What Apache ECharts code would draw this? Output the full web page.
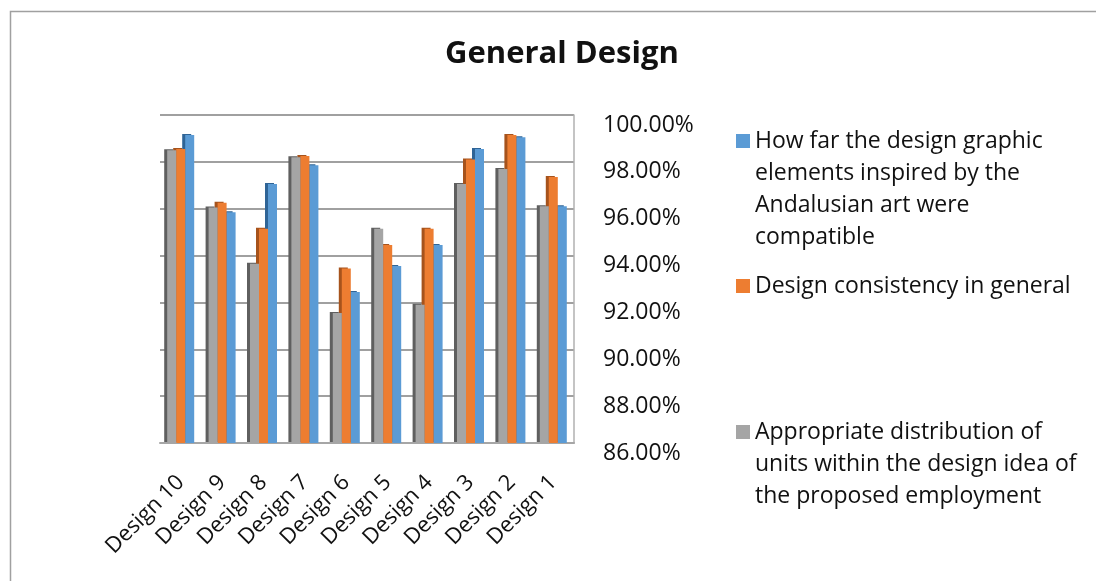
<!DOCTYPE html>
<html><head><meta charset="utf-8">
<script src="https://cdn.jsdelivr.net/npm/echarts@6/dist/echarts.min.js"></script>
<style>html,body{margin:0;padding:0;background:#fff}#c{width:1096px;height:581px}</style>
</head><body><div id="c"></div>
<script>
const categories = ['Design 10','Design 9','Design 8','Design 7','Design 6','Design 5','Design 4','Design 3','Design 2','Design 1'];
const nameGray = 'Appropriate distribution of units within the design idea of the proposed employment';
const nameOrange = 'Design consistency in general';
const nameBlue = 'How far the design graphic elements inspired by the Andalusian art were compatible';
const grayValues   = [98.50, 96.05, 93.65, 98.20, 91.55, 95.15, 91.90, 97.05, 97.70, 96.10];
const orangeValues = [98.55, 96.25, 95.15, 98.25, 93.45, 94.45, 95.15, 98.10, 99.15, 97.35];
const blueValues   = [99.15, 95.85, 97.05, 97.85, 92.45, 93.55, 94.45, 98.55, 99.05, 96.10];
const yMin = 86, yMax = 100, yStep = 2;
const legendBlueLines = ['How far the design graphic','elements inspired by the','Andalusian art were','compatible'];
const legendOrangeLines = ['Design consistency in general'];
const legendGrayLines = ['Appropriate distribution of','units within the design idea of','the proposed employment'];

const FONT = '"Open Sans", sans-serif';
const LH = 32;
const wrapMap = {};
wrapMap[nameBlue] = legendBlueLines;
wrapMap[nameOrange] = legendOrangeLines;
wrapMap[nameGray] = legendGrayLines;

function legendFor(name, color, firstLineY) {
  const n = wrapMap[name].length;
  // pad with empty lines above so the icon lines up with the first text line
  const top = firstLineY - (2 * n - 1) * LH / 2;
  return {
    data: [{name: name, itemStyle: {color: color}}],
    left: 731, top: top, orient: 'vertical',
    icon: 'rect', itemWidth: 14, itemHeight: 14,
    selectedMode: false,
    formatter: function (nm) {
      const lines = wrapMap[nm];
      const pad = [];
      for (let i = 0; i < lines.length - 1; i++) pad.push(' ');
      return pad.concat(lines).join('\n');
    },
    textStyle: {fontFamily: FONT, fontSize: 23, color: '#111', lineHeight: LH}
  };
}

function bar(name, data, color, side, z) {
  return {
    name: name, type: 'bar', data: data, z: z,
    barWidth: 9, barGap: '0%',
    itemStyle: {color: color, shadowColor: side, shadowOffsetX: -3, shadowOffsetY: -1, shadowBlur: 0}
  };
}

const chart = echarts.init(document.getElementById('c'));
chart.setOption({
  animation: false,
  backgroundColor: '#fff',
  title: {text: 'General Design', left: 440, top: 34,
    textStyle: {fontFamily: FONT, fontSize: 31, fontWeight: 'bold', color: '#111'}},
  graphic: [{type: 'rect', left: 8, top: 9, shape: {width: 1100, height: 600},
    style: {fill: 'none', stroke: '#a0a0a0', lineWidth: 1.5}, silent: true}],
  legend: [
    legendFor(nameBlue, '#5B9BD5', 136),
    legendFor(nameOrange, '#ED7D31', 281),
    legendFor(nameGray, '#A5A5A5', 427)
  ],
  grid: {left: 160, right: 522, top: 115, bottom: 138},
  xAxis: {
    type: 'category', data: categories,
    axisLine: {show: true, lineStyle: {color: '#a6a6a6', width: 2}},
    axisTick: {show: false},
    axisLabel: {rotate: 45, margin: 36, interval: 0, fontFamily: FONT, fontSize: 22, color: '#111'}
  },
  yAxis: {
    type: 'value', position: 'right', min: yMin, max: yMax, interval: yStep,
    axisLine: {show: true, lineStyle: {color: '#b0b0b0', width: 1.5}},
    axisTick: {show: false},
    splitLine: {show: true, lineStyle: {color: '#a0a0a0', width: 2}},
    axisLabel: {margin: 29, fontFamily: FONT, fontSize: 23, color: '#111',
      verticalAlign: 'top', lineHeight: 20,
      formatter: function (v) { return v.toFixed(2) + '%'; }}
  },
  series: [
    bar(nameGray, grayValues, '#A5A5A5', '#5f5f5f', 4),
    bar(nameOrange, orangeValues, '#ED7D31', '#a6531c', 3),
    bar(nameBlue, blueValues, '#5B9BD5', '#2f6496', 2)
  ]
});
</script></body></html>
